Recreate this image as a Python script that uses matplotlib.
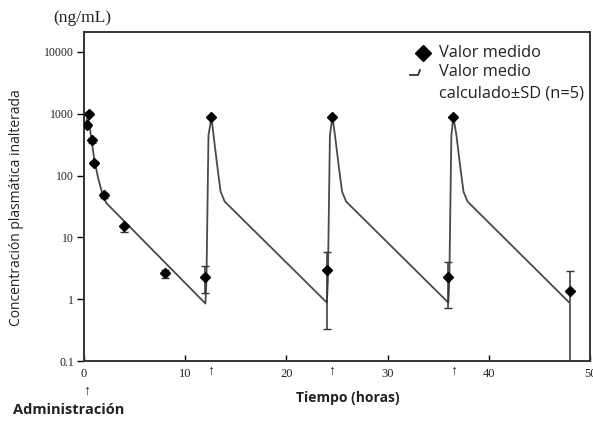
import matplotlib
matplotlib.use("Agg")
import matplotlib.pyplot as plt
from matplotlib.lines import Line2D

# --- data ---
# simulated mean curve (vertices)
curve_t = [0.12, 0.4, 0.7, 1.0, 1.4, 1.8, 2.2, 12.0,
           12.1, 12.3, 12.6, 12.8, 13.2, 13.5, 13.9, 24.0,
           24.1, 24.3, 24.55, 24.8, 25.2, 25.5, 25.9, 36.0,
           36.1, 36.3, 36.5, 36.8, 37.2, 37.5, 37.9, 47.9]
curve_c = [600, 1000, 420, 190, 90, 52, 36, 0.85,
           2.0, 450, 870, 450, 130, 55, 38, 0.88,
           2.0, 450, 880, 450, 130, 55, 38, 0.88,
           2.0, 450, 880, 450, 130, 55, 38, 0.9]

# measured mean values with SD
meas_t = [0.25, 0.5, 0.75, 1.0, 2.0, 4.0, 8.0, 12.0, 12.5, 24.0, 24.5, 36.0, 36.5, 48.0]
meas_c = [660, 1000, 370, 160, 48, 15, 2.7, 2.3, 880, 3.0, 900, 2.3, 900, 1.35]
meas_lo = [600, 980, 340, 150, 44, 12, 2.2, 1.25, 860, 0.33, 880, 0.72, 880, 0.05]
meas_hi = [720, 1050, 400, 170, 52, 16, 3.0, 3.4, 900, 5.9, 920, 4.0, 920, 2.9]

yticks = [0.1, 1, 10, 100, 1000, 10000]
ytick_labels = ["0.1", "1", "10", "100", "1000", "10000"]
xticks = [0, 10, 20, 30, 40, 50]
xtick_labels = ["0", "10", "20", "30", "40", "50"]
dose_t = [12.5, 24.5, 36.5]
legend_labels = ["Valor medido", "Valor medio", "calculado±SD (n=5)"]

W, H = 593, 423
fig = plt.figure(figsize=(W / 100, H / 100), dpi=100)
ax = fig.add_axes([84 / W, 1 - 361 / H, (590 - 84) / W, (361 - 32) / H])

ax.set_yscale("log")
ax.set_xlim(0, 50)
ax.set_ylim(0.1, 21000)

lc = "#4a4a4a"
ax.plot(curve_t, curve_c, color=lc, lw=1.3, zorder=2)

yerr_lo = [c - l for c, l in zip(meas_c, meas_lo)]
yerr_hi = [h - c for c, h in zip(meas_c, meas_hi)]
ax.errorbar(meas_t, meas_c, yerr=[yerr_lo, yerr_hi], fmt="D", color="black",
            ecolor="#333333", elinewidth=1.1, capsize=3, capthick=1.0,
            markersize=5, zorder=3)

serif = ["Liberation Serif", "DejaVu Serif"]
sans = ["Open Sans", "DejaVu Sans"]
tc = "#222222"

ax.set_yticks(yticks)
ax.set_yticklabels(ytick_labels, fontsize=8.5, family=serif, color=tc)
ax.minorticks_off()
ax.set_xticks(xticks)
ax.set_xticklabels(xtick_labels, fontsize=9, family=serif, color=tc)
ax.tick_params(axis="y", direction="out", length=5, width=1, pad=2)
ax.tick_params(axis="x", direction="in", length=4, width=1, pad=5)
for s in ax.spines.values():
    s.set_linewidth(1.4)
    s.set_color("#333333")

# arrows under doses
for t in dose_t:
    ax.annotate("↑", xy=(t, 0.1), xycoords="data", xytext=(0, -7),
                textcoords="offset points", ha="center", va="center",
                fontsize=10, family=serif, color=tc, annotation_clip=False)
fig.text(87 / W, 1 - 391 / H, "↑", ha="center", va="center", fontsize=10,
         family=serif, color=tc)

fig.text(53 / W, 1 - 18 / H, "(ng/mL)", ha="left", va="center", fontsize=12.5,
         family=serif, color=tc)
fig.text(17 / W, 1 - 208 / H, "Concentración plasmática inalterada", rotation=90,
         ha="center", va="center", fontsize=10, family=sans, color=tc)
fig.text(348 / W, 1 - 398 / H, "Tiempo (horas)", ha="center", va="center",
         fontsize=10, fontweight="bold", family=sans, color=tc)
fig.text(13 / W, 1 - 410 / H, "Administración", ha="left", va="center",
         fontsize=10.5, fontweight="bold", family=sans, color=tc)

# legend (drawn by hand to match placement)
fig.add_artist(Line2D([423 / W], [1 - 53 / H], marker="D", color="black",
                      markersize=8, ls="none"))
fig.add_artist(Line2D([410 / W, 418 / W, 420 / W], [1 - 75 / H, 1 - 75 / H, 1 - 70 / H],
                      color="#333333", lw=1.3))
for lab, yp in zip(legend_labels, [53, 72, 93]):
    fig.text(439 / W, 1 - yp / H, lab, ha="left", va="center", fontsize=11.8,
             family=sans, color=tc)

fig.savefig("out.png", dpi=100)
